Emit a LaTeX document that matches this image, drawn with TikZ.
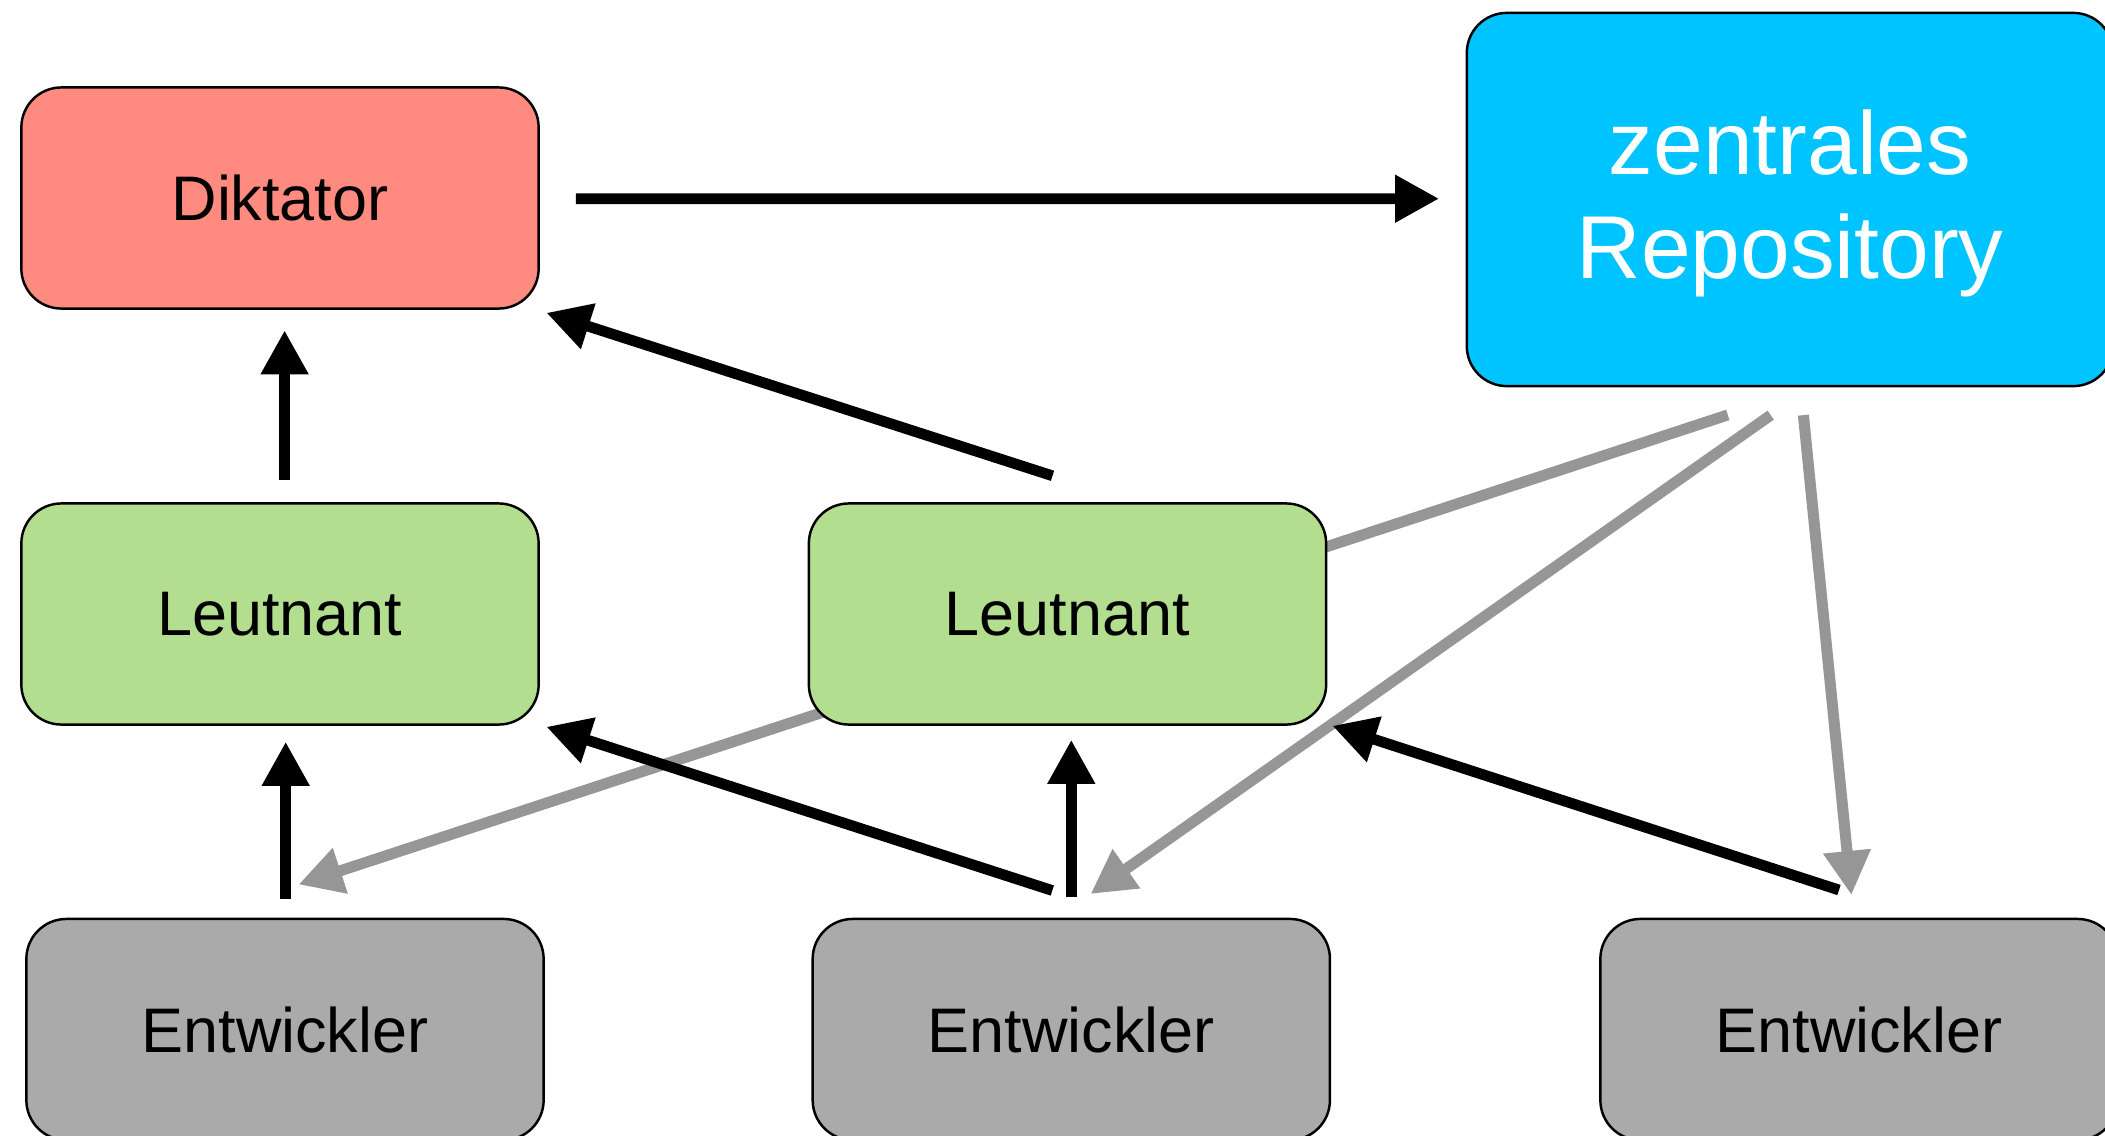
\documentclass[tikz,border=0pt]{standalone}
\usepackage{fontspec}
\setmainfont{Liberation Sans}
\usetikzlibrary{arrows.meta,calc,backgrounds}
\definecolor{dikfill}{RGB}{255,138,128}
\definecolor{repofill}{RGB}{0,196,255}
\definecolor{leutfill}{RGB}{179,222,143}
\definecolor{entfill}{RGB}{170,170,170}
\definecolor{graylink}{RGB}{150,150,150}
\begin{document}
\begin{tikzpicture}[x=0.01cm,y=-0.01cm,
  box/.style={draw=black,line width=0.7pt,rounded corners=0.4cm,minimum width=5.17cm,minimum height=2.21cm,inner sep=0pt,font=\fontsize{17.9}{21}\selectfont,text=black},
  blackarrow/.style={draw=black,line width=0.107cm,-{Triangle[length=0.44cm,width=0.45cm]}},
  grayarrow/.style={draw=graylink,line width=0.11cm,-{Triangle[length=0.44cm,width=0.45cm]}}]
\useasboundingbox (0,0) rectangle (2105,1136);
\clip (0,0) rectangle (2105,1136);
% nodes
\node[box,fill=dikfill] (dik) at (280,198) {Diktator};
\node[box,fill=repofill,minimum width=6.46cm,minimum height=3.73cm,text=white,align=center,font=\fontsize{25.4}{29.6}\selectfont,text depth=0.1cm] (repo) at (1790,199.5) {zentrales\\Repository};
\node[box,fill=leutfill] (l1) at (280,614) {Leutnant};
\node[box,fill=leutfill] (l2) at (1067.5,614) {Leutnant};
\node[box,fill=entfill] (e1) at (285,1029.5) {Entwickler};
\node[box,fill=entfill] (e2) at (1071.3,1029.5) {Entwickler};
\node[box,fill=entfill] (e3) at (1859,1029.5) {Entwickler};
% gray connectors behind the nodes
\begin{pgfonlayer}{background}
\draw[grayarrow] ($(repo.south)+(-62.2,27.6)$) -- ($(e1.north)+(13.5,-33.2)$);
\draw[grayarrow] ($(repo.south)+(-19.3,27.8)$) -- ($(e2.north)+(19.2,-23.7)$);
\draw[grayarrow] ($(repo.south)+(13.4,27.8)$) -- ($(e3.north)+(-7.6,-22.7)$);
\end{pgfonlayer}
% black connectors
\draw[blackarrow] ($(dik.east)+(36,0.7)$) -- ($(repo.west)+(-26.5,-0.8)$);
\draw[blackarrow] ($(l1.north)+(4.6,-22.4)$) -- ($(dik.south)+(4.6,20.5)$);
\draw[blackarrow] ($(l2.north)+(-15,-26.4)$) -- ($(dik.south east)+(6.5,3)$);
\draw[blackarrow] ($(e1.north)+(0.7,-18.7)$) -- ($(l1.south)+(5.7,16)$);
\draw[blackarrow] ($(e2.north)+(-19,-27.2)$) -- ($(l1.south east)+(6.5,1)$);
\draw[blackarrow] ($(e2.north)+(0,-20.7)$) -- ($(l2.south)+(3.8,14)$);
\draw[blackarrow] ($(e3.north)+(-20,-27.7)$) -- ($(l2.south east)+(5,0)$);
\end{tikzpicture}
\end{document}
